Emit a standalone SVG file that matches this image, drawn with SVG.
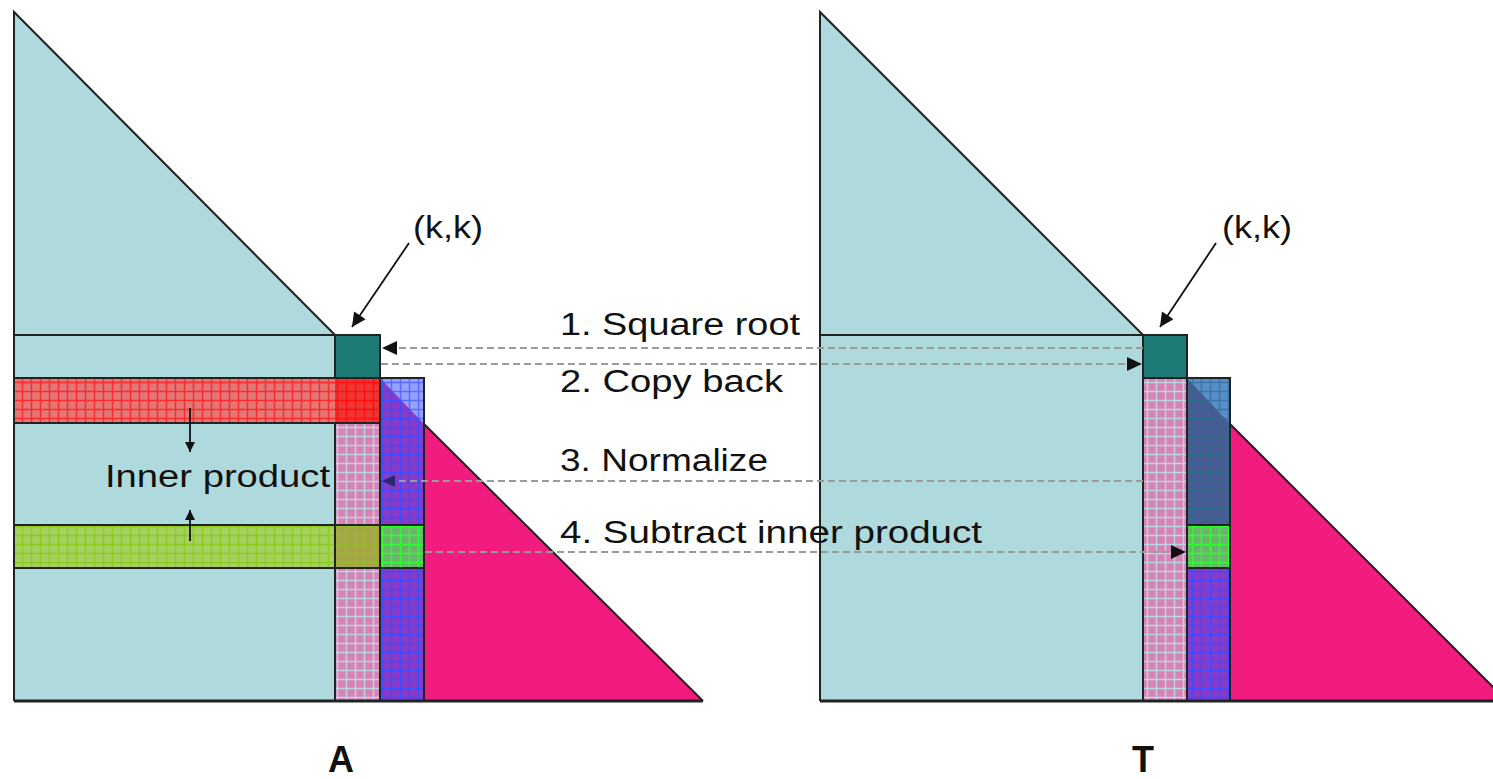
<svg xmlns="http://www.w3.org/2000/svg" width="1493" height="779" viewBox="0 0 1493 779">
<style>
.bd{stroke:#222;stroke-width:2;}
.lb{fill:#afdadd;}
.pk{fill:#f21b7e;}
.teal{fill:#1d7a74;}
.t{font-family:"Liberation Sans","DejaVu Sans",sans-serif;font-size:31px;fill:#111;}
.big{font-family:"Liberation Sans","DejaVu Sans",sans-serif;font-size:36px;font-weight:bold;fill:#111;text-anchor:middle;}
.dash{stroke:#9a9a9a;stroke-width:2.2;stroke-dasharray:7 4;fill:none;}
.ar{stroke:#111;stroke-width:1.8;fill:none;}
</style>
<defs>
<pattern id="pRed" patternUnits="userSpaceOnUse" width="9" height="9"><rect width="9" height="9" fill="#e27777"/><path d="M4.5 0V9M0 4.5H9" stroke="#ff2a2a" stroke-width="1.5"/></pattern>
<pattern id="pRedK" patternUnits="userSpaceOnUse" width="9" height="9"><rect width="9" height="9" fill="#ef3434"/><path d="M4.5 0V9M0 4.5H9" stroke="#ff1010" stroke-width="1.5"/></pattern>
<pattern id="pPink" patternUnits="userSpaceOnUse" width="9" height="9"><rect width="9" height="9" fill="#d982b4"/><path d="M4.5 0V9M0 4.5H9" stroke="#b8d6e4" stroke-width="1.5"/></pattern>
<pattern id="pGreen" patternUnits="userSpaceOnUse" width="9" height="9"><rect width="9" height="9" fill="#a6d060"/><path d="M4.5 0V9M0 4.5H9" stroke="#8ccc1e" stroke-width="1.5"/></pattern>
<pattern id="pOlive" patternUnits="userSpaceOnUse" width="9" height="9"><rect width="9" height="9" fill="#a8a44a"/><path d="M4.5 0V9M0 4.5H9" stroke="#96b82c" stroke-width="1.5"/></pattern>
<pattern id="pPurple" patternUnits="userSpaceOnUse" width="9" height="9"><rect width="9" height="9" fill="#8a3ac6"/><path d="M4.5 0V9M0 4.5H9" stroke="#3c4cff" stroke-width="1.5"/></pattern>
<pattern id="pLight" patternUnits="userSpaceOnUse" width="9" height="9"><rect width="9" height="9" fill="#93a2ff"/><path d="M4.5 0V9M0 4.5H9" stroke="#5a6cff" stroke-width="1.5"/></pattern>
<pattern id="pGCell" patternUnits="userSpaceOnUse" width="9" height="9"><rect width="9" height="9" fill="#6cb46e"/><path d="M4.5 0V9M0 4.5H9" stroke="#2cff2c" stroke-width="1.5"/></pattern>
<pattern id="pSteelL" patternUnits="userSpaceOnUse" width="9" height="9"><rect width="9" height="9" fill="#5a8ec6"/><path d="M4.5 0V9M0 4.5H9" stroke="#3a76ae" stroke-width="1.5"/></pattern>
<pattern id="pSteelD" patternUnits="userSpaceOnUse" width="9" height="9"><rect width="9" height="9" fill="#4c5898"/><path d="M4.5 0V9M0 4.5H9" stroke="#2a6e84" stroke-width="1.5"/></pattern>
<marker id="ah" viewBox="0 0 10 10" refX="10" refY="5" markerWidth="12" markerHeight="10" markerUnits="userSpaceOnUse" orient="auto"><path d="M0 0L10 5L0 10z" fill="#111"/></marker>
<marker id="ahB" viewBox="0 0 10 10" refX="10" refY="5" markerWidth="16" markerHeight="14" markerUnits="userSpaceOnUse" orient="auto"><path d="M0 0L10 5L0 10z" fill="#111"/></marker>
</defs>

<g id="matrixA">
  <polygon class="lb" points="14,12 335,335 335,701 14,701"/>
  <polygon class="pk" points="424,424 703,701 424,701"/>
  <path class="bd" fill="none" d="M14,701 V12 L335,335 M424,424 L703,701 M14,335 H335"/>
  <rect class="teal bd" x="335" y="335" width="45" height="43"/>
  <rect x="14" y="378" width="321" height="45" fill="url(#pRed)"/>
  <rect x="335" y="378" width="45" height="45" fill="url(#pRedK)"/>
  <rect class="bd" fill="none" x="14" y="378" width="366" height="45"/>
  <rect x="335" y="423" width="45" height="278" fill="url(#pPink)"/>
  <rect x="14" y="525" width="321" height="43" fill="url(#pGreen)"/>
  <rect x="335" y="525" width="45" height="43" fill="url(#pOlive)"/>
  <rect class="bd" fill="none" x="14" y="525" width="366" height="43"/>
  <rect class="bd" fill="none" x="335" y="423" width="45" height="278"/>
  <rect x="380" y="378" width="44" height="323" fill="url(#pPurple)"/>
  <polygon points="380,378 424,378 424,424" fill="url(#pLight)"/>
  <rect x="380" y="525" width="44" height="43" fill="url(#pGCell)"/>
  <path class="bd" fill="none" d="M380,525 H424 M380,568 H424"/>
  <rect class="bd" fill="none" x="380" y="378" width="44" height="323"/>
  <path fill="none" stroke="#222" stroke-width="3" d="M14,701 H703"/>
</g>

<g id="matrixT">
  <polygon class="lb" points="820,12 1143,335 1143,701 820,701"/>
  <polygon class="pk" points="1230,424 1507,701 1230,701"/>
  <path class="bd" fill="none" d="M820,701 V12 L1143,335 M1230,424 L1507,701 M820,335 H1143"/>
  <rect class="teal bd" x="1143" y="335" width="44" height="43"/>
  <rect x="1143" y="378" width="44" height="323" fill="url(#pPink)"/>
  <rect class="bd" fill="none" x="1143" y="378" width="44" height="323"/>
  <rect x="1187" y="378" width="43" height="147" fill="url(#pSteelD)"/>
  <polygon points="1187,378 1230,378 1230,424" fill="url(#pSteelL)"/>
  <rect x="1187" y="525" width="43" height="43" fill="url(#pGCell)"/>
  <rect x="1187" y="568" width="43" height="133" fill="url(#pPurple)"/>
  <path class="bd" fill="none" d="M1187,525 H1230 M1187,568 H1230"/>
  <rect class="bd" fill="none" x="1187" y="378" width="43" height="323"/>
  <path fill="none" stroke="#222" stroke-width="3" d="M820,701 H1493"/>
</g>

<g id="connectors">
  <line class="ar" x1="190" y1="408" x2="190" y2="452" marker-end="url(#ah)"/>
  <line class="ar" x1="190" y1="541" x2="190" y2="510" marker-end="url(#ah)"/>
  <line class="ar" x1="409" y1="243" x2="352" y2="327" marker-end="url(#ahB)"/>
  <line class="ar" x1="1216" y1="243" x2="1160" y2="327" marker-end="url(#ahB)"/>
  <line class="dash" x1="1143" y1="348" x2="384" y2="348"/>
  <path d="M382,348 L397,341 L397,355z" fill="#111"/>
  <line class="dash" x1="381" y1="364" x2="1128" y2="364"/>
  <path d="M1142,364 L1127,357 L1127,371z" fill="#111"/>
  <line class="dash" x1="1143" y1="481" x2="395" y2="481"/>
  <path d="M382,481 L395,475 L395,487z" fill="#2a2a70"/>
  <line class="dash" x1="425" y1="552" x2="1172" y2="552"/>
  <path d="M1186,552 L1171,545 L1171,559z" fill="#111"/>
</g>

<g id="labels">
  <text class="t" x="413" y="238" textLength="70" lengthAdjust="spacingAndGlyphs">(k,k)</text>
  <text class="t" x="1222" y="238" textLength="70" lengthAdjust="spacingAndGlyphs">(k,k)</text>
  <text class="t" x="560" y="335" textLength="240" lengthAdjust="spacingAndGlyphs">1. Square root</text>
  <text class="t" x="560" y="392" textLength="223" lengthAdjust="spacingAndGlyphs">2. Copy back</text>
  <text class="t" x="560" y="471" textLength="208" lengthAdjust="spacingAndGlyphs">3. Normalize</text>
  <text class="t" x="560" y="543" textLength="422" lengthAdjust="spacingAndGlyphs">4. Subtract inner product</text>
  <text class="t" x="105" y="487" textLength="225" lengthAdjust="spacingAndGlyphs">Inner product</text>
  <text class="big" x="341" y="772">A</text>
  <text class="big" x="1143" y="772">T</text>
</g>
</svg>
